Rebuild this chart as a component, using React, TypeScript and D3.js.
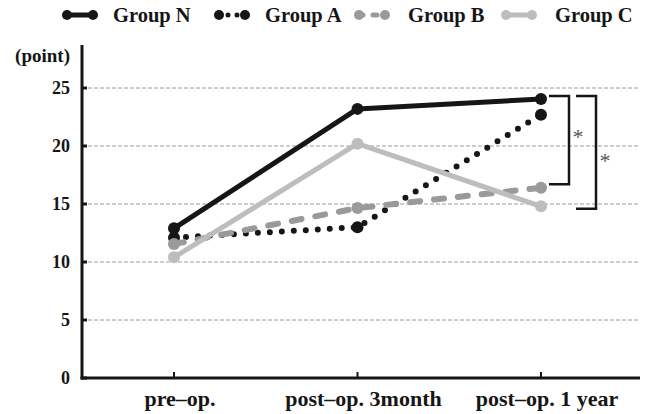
import * as d3 from "d3";

const periods = ["pre–op.", "post–op. 3month", "post–op. 1 year"];
const yTicks = [0, 5, 10, 15, 20, 25];
const groupN = [12.9, 23.2, 24.05];
const groupA = [12.1, 13.0, 22.7];
const groupB = [11.55, 14.65, 16.4];
const groupC = [10.4, 20.2, 14.8];
const seriesNames = ["Group N", "Group A", "Group B", "Group C"];
// significance brackets at 1 year: [top, bottom]
const brackets = [
  [24.3, 16.7],
  [24.3, 14.6],
];

const styles = [
  { color: "#161616", dash: "none", width: 5, r: 6 },
  { color: "#161616", dash: "0 12", width: 6, r: 6 },
  { color: "#9a9a9a", dash: "10 14", width: 6, r: 6 },
  { color: "#bdbdbd", dash: "none", width: 5, r: 6 },
];

const font = "'Liberation Serif', 'Times New Roman', serif";

export default function App() {
  const W = 646;
  const H = 414;
  const left = 82;
  const bottom = 378;
  const right = 640;

  const x = d3.scalePoint().domain(periods).range([174, 541]);
  const y = d3.scaleLinear().domain([0, 25]).range([bottom, 88]);
  const yTop = y(28.7);

  const series = [groupN, groupA, groupB, groupC];
  const line = d3
    .line<number>()
    .x((_, i) => x(periods[i])!)
    .y(d => y(d));

  const legendX = [63, 215, 355, 502];
  const legendTextX = [113, 265, 408, 555];

  return (
    <svg width={W} height={H} style={{ position: "absolute", left: 0, top: 0, background: "#fff" }} fontFamily={font}>
      {/* gridlines */}
      {yTicks.filter(t => t > 0).map(t => (
        <line key={t} x1={left} x2={right} y1={y(t)} y2={y(t)} stroke="#9c9c9c" strokeWidth={1} strokeDasharray="4 2" />
      ))}
      {/* y axis */}
      <line x1={left} x2={left} y1={yTop} y2={bottom + 1.5} stroke="#161616" strokeWidth={3} />
      {yTicks.map(t => (
        <g key={t}>
          <line x1={left} x2={left + 5} y1={y(t)} y2={y(t)} stroke="#161616" strokeWidth={3} />
          <text x={70} y={y(t)} dy="0.35em" textAnchor="end" fontSize={18} fontWeight="bold" fill="#161616">
            {t}
          </text>
        </g>
      ))}
      <text x={70} y={55} dy="0.35em" textAnchor="end" fontSize={19} fontWeight="bold" fill="#161616">
        (point)
      </text>
      {/* x axis */}
      <line x1={left - 1.5} x2={right} y1={bottom} y2={bottom} stroke="#161616" strokeWidth={3} />
      {periods.map(p => (
        <g key={p}>
          <line x1={x(p)} x2={x(p)} y1={bottom} y2={bottom - 6} stroke="#161616" strokeWidth={2} />
          <text x={x(p)! + 6} y={406} textAnchor="middle" fontSize={22} fontWeight="bold" fill="#161616">
            {p}
          </text>
        </g>
      ))}
      {/* series */}
      {series.map((s, k) => (
        <g key={seriesNames[k]}>
          <path
            d={line(s)!}
            fill="none"
            stroke={styles[k].color}
            strokeWidth={styles[k].width}
            strokeDasharray={styles[k].dash}
            strokeLinecap="round"
            strokeLinejoin="round"
          />
          {s.map((v, i) => (
            <circle key={i} cx={x(periods[i])} cy={y(v)} r={styles[k].r} fill={styles[k].color} />
          ))}
        </g>
      ))}
      {/* brackets */}
      {brackets.map(([t, b], i) => {
        const x0 = 549 + i * 27;
        const x1 = x0 + 20;
        return (
          <g key={i}>
            <path
              d={`M${x0},${y(t)}H${x1}V${y(b)}H${x0}`}
              fill="none"
              stroke="#161616"
              strokeWidth={2.5}
            />
            <text x={x1 + 9} y={(y(t) + y(b)) / 2 + (i === 0 ? -12 : 0)} dy="0.7em" textAnchor="middle" fontSize={22} fill="#555">
              *
            </text>
          </g>
        );
      })}
      {/* legend */}
      {seriesNames.map((n, k) => {
        const lx = legendX[k];
        const ly = 15;
        return (
          <g key={n}>
            <line
              x1={lx + 4}
              x2={lx + 30}
              y1={ly}
              y2={ly}
              stroke={styles[k].color}
              strokeWidth={5}
              strokeDasharray={k === 1 ? "0 9" : k === 2 ? "4 10" : "none"}
              strokeLinecap="round"
            />
            <circle cx={lx + 4} cy={ly} r={5} fill={styles[k].color} />
            <circle cx={lx + 30} cy={ly} r={5} fill={styles[k].color} />
            <text x={legendTextX[k]} y={ly} dy="0.35em" fontSize={20.5} fontWeight="bold" fill="#161616">
              {n}
            </text>
          </g>
        );
      })}
    </svg>
  );
}
